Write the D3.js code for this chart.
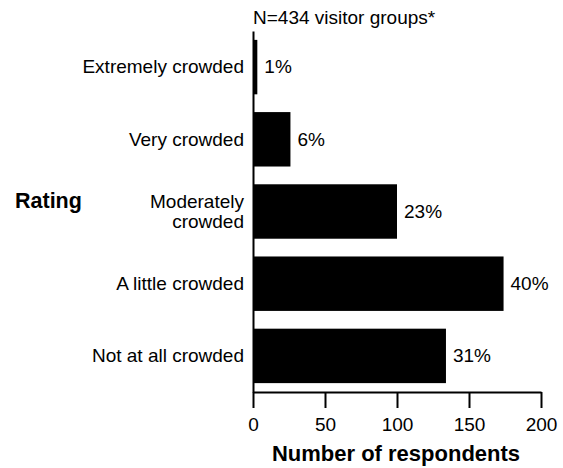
<!DOCTYPE html>
<html>
<head>
<meta charset="utf-8">
<script src="https://cdn.jsdelivr.net/npm/d3@7"></script>
<style>
body { margin: 0; background: #fff; }
text { font-family: "Liberation Sans", Arial, sans-serif; fill: #000; }
</style>
</head>
<body>
<div id="chart-area"></div>
<script>
var categories = ["Extremely crowded", "Very crowded", "Moderately crowded", "A little crowded", "Not at all crowded"];
var counts = [3, 26, 100, 174, 134];
var percents = ["1%", "6%", "23%", "40%", "31%"];
var xTicks = [0, 50, 100, 150, 200];

var data = categories.map((c, i) => ({ cat: c, n: counts[i], pct: percents[i] }));

var svg = d3.select("#chart-area")
    .append("svg")
    .attr("width", 563)
    .attr("height", 468);

var x = d3.scaleLinear().domain([0, 200]).range([253, 541]);
var y = d3.scaleBand().domain(categories).range([31, 392])
    .paddingInner(0.246).paddingOuter(0.123);

// bars
svg.selectAll("rect.bar").data(data).enter().append("rect")
    .attr("class", "bar")
    .attr("x", x(0))
    .attr("y", d => y(d.cat))
    .attr("width", d => x(d.n) - x(0))
    .attr("height", y.bandwidth())
    .attr("fill", "#000");

// percent labels
svg.selectAll("text.pct").data(data).enter().append("text")
    .attr("class", "pct")
    .attr("x", d => x(d.n) + 7)
    .attr("y", d => y(d.cat) + y.bandwidth() / 2)
    .attr("dy", "0.33em")
    .style("font-size", "19px")
    .text(d => d.pct);

// x axis
var xAxis = svg.append("g")
    .attr("transform", "translate(0, 392)")
    .call(d3.axisBottom(x).tickValues(xTicks).tickSize(16).tickPadding(10).tickSizeOuter(0));
xAxis.select(".domain").attr("stroke-width", 2);
xAxis.selectAll(".tick line").attr("stroke-width", 2);
xAxis.selectAll(".tick text")
    .style("font-size", "19px")
    .style("font-family", "'Liberation Sans', Arial, sans-serif");

// y axis line
var yAxis = svg.append("g")
    .attr("transform", "translate(" + x(0) + ", 0)")
    .call(d3.axisLeft(y).tickSize(0).tickFormat(""));
yAxis.select(".domain").attr("stroke-width", 2);
yAxis.selectAll(".tick text").remove();

// category labels
var labels = svg.selectAll("text.cat").data(data).enter().append("text")
    .attr("class", "cat")
    .attr("text-anchor", "end")
    .attr("x", 244)
    .attr("y", d => y(d.cat) + y.bandwidth() / 2)
    .style("font-size", "19px");

labels.each(function (d) {
    var t = d3.select(this);
    var lines = d.cat === "Moderately crowded" ? ["Moderately", "crowded"] : [d.cat];
    var start = lines.length === 1 ? 0.33 : -0.2;
    lines.forEach((l, i) => {
        t.append("tspan")
            .attr("x", 244)
            .attr("dy", (i === 0 ? start : 1.05) + "em")
            .text(l);
    });
});

// titles
svg.append("text")
    .attr("x", 253)
    .attr("y", 24)
    .style("font-size", "19px")
    .text("N=434 visitor groups*");

svg.append("text")
    .attr("x", 15)
    .attr("y", 208)
    .style("font-size", "21.5px")
    .style("font-weight", "bold")
    .text("Rating");

svg.append("text")
    .attr("x", 396)
    .attr("y", 461)
    .attr("text-anchor", "middle")
    .style("font-size", "22px")
    .style("font-weight", "bold")
    .text("Number of respondents");
</script>
</body>
</html>
